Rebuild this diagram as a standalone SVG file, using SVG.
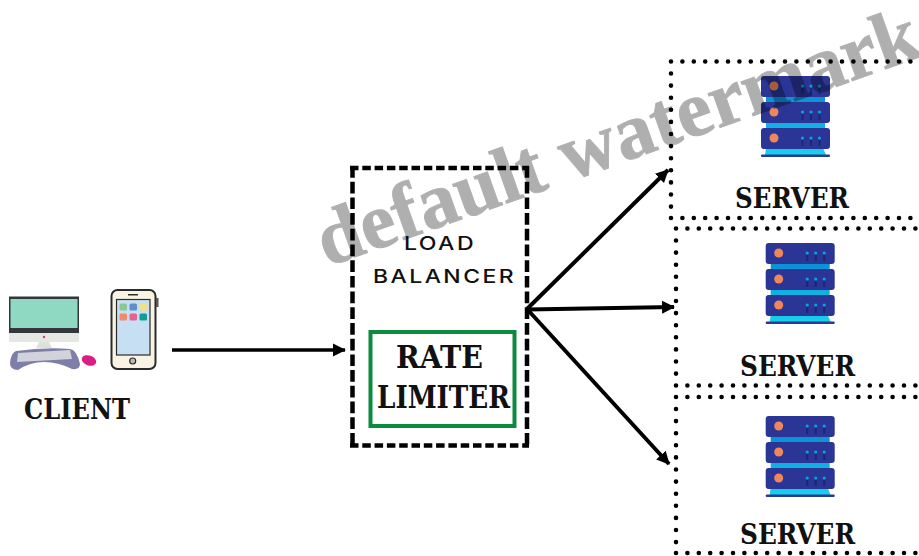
<svg xmlns="http://www.w3.org/2000/svg" width="919" height="556" viewBox="0 0 919 556">
<style>
.slab{font-family:"DejaVu Serif","Liberation Serif",serif;font-weight:700;fill:#111;font-stretch:condensed}
.mont{font-family:Inter,"Open Sans",sans-serif;font-weight:500;fill:#111;letter-spacing:2px}
.dots{fill:none;stroke:#000;stroke-width:4.600;stroke-linecap:round;stroke-dasharray:0 11.400}
.dotv{fill:none;stroke:#000;stroke-width:4.600;stroke-linecap:round;stroke-dasharray:0 12.100}
.dash{fill:none;stroke:#000;stroke-width:4.500}
.arrow{fill:none;stroke:#000;stroke-width:4}
</style>
<defs>
<marker id="head" markerUnits="userSpaceOnUse" markerWidth="16" markerHeight="16" refX="12" refY="7" orient="auto"><path d="M0 0.500L13 7L0 13.500Z" fill="#000"/></marker>
<linearGradient id="glow" x1="0" y1="0" x2="0" y2="1"><stop offset="0" stop-color="#0a8fd6"/><stop offset="1" stop-color="#19d0ee"/></linearGradient>
<symbol id="server" viewBox="0 0 70 82" width="70" height="82" overflow="visible">
<path d="M5 20H64V27H5ZM5 46H64V53H5ZM5 72H62L65 79H4Z" fill="url(#glow)"/>
<rect x="0" y="78.500" width="69" height="2.500" rx="1" fill="#273b8f"/>
<g id="unit"><rect x="0" y="0" width="69" height="21" rx="3" fill="#2a3596"/><circle cx="13" cy="10" r="4.500" fill="#f0875a"/><g fill="#05a5e0"><circle cx="41.500" cy="10" r="1.600"/><circle cx="50" cy="10" r="1.600"/><circle cx="58.500" cy="10" r="1.600"/></g><g fill="#1d2672"><rect x="40.500" y="12" width="2" height="6"/><rect x="49" y="12" width="2" height="6"/><rect x="57.500" y="12" width="2" height="6"/></g></g>
<use href="#unit" y="26"/><use href="#unit" y="52"/>
</symbol>
</defs>
<rect width="919" height="556" fill="#fff"/>
<g id="connectors">
<path class="arrow" d="M172 350H345" marker-end="url(#head)" style="stroke-width:3.400"/>
<path class="arrow" d="M527 309L668 170" marker-end="url(#head)"/>
<path class="arrow" d="M527 309.500L674 307" marker-end="url(#head)"/>
<path class="arrow" d="M527 309L669 464" marker-end="url(#head)"/>
</g>
<g id="client">
<rect x="9" y="296.500" width="70" height="36.500" fill="#33363b"/>
<rect x="10.500" y="299" width="67" height="29" fill="#8fd8c2"/>
<rect x="9" y="333" width="70" height="9" fill="#e4e7e2"/>
<circle cx="44" cy="337" r="1.200" fill="#e0357f"/>
<path d="M36 348L39 342H49L52 348Z" fill="#dde0db"/>
<path d="M16 351Q45 347 70 349Q77 350 80 364Q80 370 72 369Q58 362 44 362Q30 362 18 370Q10 370 10 363Q11 353 16 351Z" fill="#7d7fa8"/>
<path d="M18 353L70 350L72 359L17 362Z" fill="#d2d2da"/>
<ellipse cx="89" cy="360.500" rx="7.500" ry="5" transform="rotate(20 89 360.500)" fill="#d91f85"/>
<rect x="111.500" y="290" width="44" height="79" rx="6" fill="#f8f3e2" stroke="#2b2b2b" stroke-width="2"/>
<rect x="156" y="298" width="2.500" height="9" fill="#555"/>
<rect x="116.500" y="299.500" width="33.500" height="55.500" fill="#c6dff2" stroke="#2b2b2b" stroke-width="1.200"/>
<rect x="128" y="294" width="10" height="1.500" fill="#2b2b2b"/>
<circle cx="132.700" cy="361" r="3" fill="#bbb" stroke="#2b2b2b" stroke-width="1.200"/>
<rect x="119.500" y="303.500" width="7.500" height="7" rx="1.500" fill="#8cc79a"/><rect x="129.500" y="303.500" width="7.500" height="7" rx="1.500" fill="#5f8fc9"/><rect x="139.500" y="303.500" width="7.500" height="7" rx="1.500" fill="#f1e08a"/>
<rect x="119.500" y="313.500" width="7.500" height="7" rx="1.500" fill="#f08a68"/><rect x="129.500" y="313.500" width="7.500" height="7" rx="1.500" fill="#e8618c"/><rect x="139.500" y="313.500" width="7.500" height="7" rx="1.500" fill="#0f9d94"/>
<text class="slab" x="24" y="419" font-size="27" textLength="106" lengthAdjust="spacingAndGlyphs">CLIENT</text>
</g>
<g id="load-balancer">
<path class="dash" d="M350 168H529M350 445.500H529" stroke-dasharray="8.500 3.800"/>
<path class="dash" d="M352.500 166V448M527 166V448" stroke-dasharray="11.700 4"/>
<text class="mont" x="404" y="250" font-size="19" textLength="72" lengthAdjust="spacingAndGlyphs">LOAD</text>
<text class="mont" x="373" y="283" font-size="19" textLength="143" lengthAdjust="spacingAndGlyphs">BALANCER</text>
</g>
<g id="rate-limiter">
<rect x="370.500" y="332" width="144" height="94" fill="none" stroke="#0b8a40" stroke-width="4"/>
<text class="slab" x="396" y="368" font-size="32" textLength="87" lengthAdjust="spacingAndGlyphs">RATE</text>
<text class="slab" x="377" y="408" font-size="32" textLength="133" lengthAdjust="spacingAndGlyphs">LIMITER</text>
</g>
<g id="server-1">
<path class="dots" d="M671 61.500H919M671 218H919"/>
<path class="dotv" d="M671 73.500V208"/>
<use href="#server" x="761" y="76"/>
<text class="slab" x="735" y="208" font-size="27" textLength="114" lengthAdjust="spacingAndGlyphs">SERVER</text>
</g>
<g id="server-2">
<path class="dots" d="M676 228.500H919M676 385.500H919"/>
<path class="dotv" d="M676 240.500V375"/>
<use href="#server" x="765.700" y="243"/>
<text class="slab" x="740" y="376" font-size="27" textLength="115" lengthAdjust="spacingAndGlyphs">SERVER</text>
</g>
<g id="server-3">
<path class="dots" d="M676 397H919M676 553H919"/>
<path class="dotv" d="M676 409V543"/>
<use href="#server" x="765.700" y="416"/>
<text class="slab" x="740" y="544" font-size="27" textLength="115" lengthAdjust="spacingAndGlyphs">SERVER</text>
</g>
<text id="watermark" transform="translate(327 267) rotate(-19.500)" font-family="Liberation Serif,serif" font-weight="700" font-size="79" fill="#000" stroke="#000" stroke-width=".9" opacity=".31">default watermark</text>
</svg>
